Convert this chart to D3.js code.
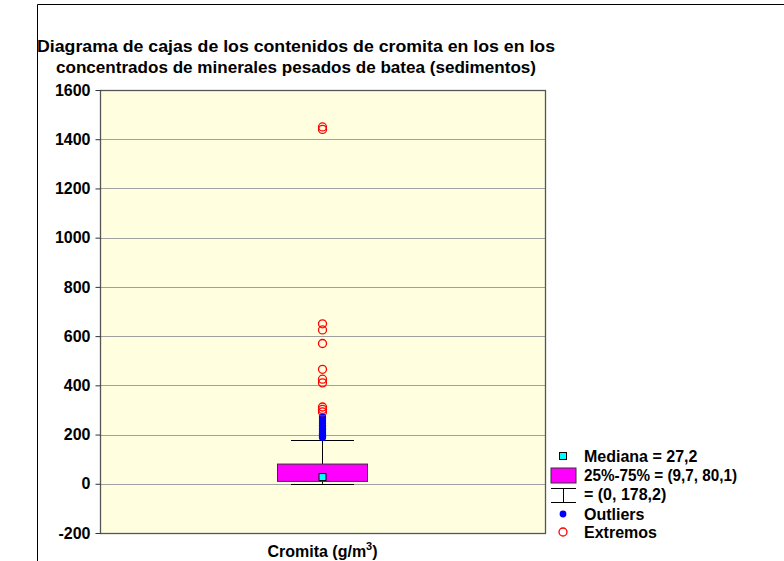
<!DOCTYPE html>
<html>
<head>
<meta charset="utf-8">
<script src="https://cdn.jsdelivr.net/npm/d3@7"></script>
<style>
  body { margin: 0; background: #fff; }
  text { font-family: Arial, "Liberation Sans", sans-serif; font-weight: bold; }
</style>
</head>
<body>
<div id="workspace"></div>
<script>
// chart values
var titleLines = ["Diagrama de cajas de los contenidos de cromita en los en los",
                  "concentrados de minerales pesados de batea (sedimentos)"];
var yTicks = [-200, 0, 200, 400, 600, 800, 1000, 1200, 1400, 1600];
var category = "Cromita";
var median = 27.2;
var q1 = 9.7, q3 = 80.1;
var whiskLow = 0, whiskHigh = 178.2;
var outliers = [188, 192, 196, 200, 205, 210, 215, 220, 226, 232, 238, 245, 252, 260, 268, 272];
var extremes = [1450, 1440, 650, 625, 570, 465, 425, 410, 312, 302, 292];
var legendLabels = ["Mediana = 27,2", "25%-75% = (9,7, 80,1)", "= (0, 178,2)", "Outliers", "Extremos"];

var W = 784, H = 561;
var svg = d3.select("#workspace")
	.append("svg")
	.attr("width", W)
	.attr("height", H);

// outer frame
svg.append("path")
	.attr("d", "M37.5," + H + "V4.5H" + W)
	.attr("stroke", "black")
	.attr("fill", "none");

var plot = {left: 100, right: 545, top: 90, bottom: 533};

var y = d3.scaleLinear().domain([-200, 1600]).range([plot.bottom, plot.top]);
var x = d3.scaleBand().domain([category]).range([plot.left, plot.right]);
var cx = x(category) + x.bandwidth() / 2;

// title
titleLines.forEach(function(t, i) {
	svg.append("text")
		.attr("x", 296)
		.attr("y", 52 + i * 21)
		.attr("text-anchor", "middle")
		.attr("font-size", "16px")
		.attr("textLength", i == 0 ? 518 : 480)
		.attr("lengthAdjust", "spacingAndGlyphs")
		.text(t);
});

// plot background
svg.append("rect")
	.attr("x", plot.left)
	.attr("y", plot.top)
	.attr("width", plot.right - plot.left)
	.attr("height", plot.bottom - plot.top)
	.attr("fill", "#ffffe0");

// grid lines
svg.selectAll(".grid")
	.data(yTicks.slice(1, -1))
	.enter().append("line")
	.attr("x1", plot.left)
	.attr("x2", plot.right)
	.attr("y1", function(d) { return Math.round(y(d)) + 0.5; })
	.attr("y2", function(d) { return Math.round(y(d)) + 0.5; })
	.attr("stroke", "#a0a0a0")
	.attr("stroke-width", 1.2);

svg.append("rect")
	.attr("x", plot.left + 0.5)
	.attr("y", plot.top + 0.5)
	.attr("width", plot.right - plot.left)
	.attr("height", plot.bottom - plot.top)
	.attr("fill", "none")
	.attr("stroke", "#555")
	.attr("stroke-width", 1.3);

// y axis
var yAxis = d3.axisLeft(y).tickValues(yTicks).tickSize(5).tickPadding(5)
	.tickFormat(function(d) { return String(d); });
var ga = svg.append("g")
	.attr("transform", "translate(" + (plot.left + 0.5) + ",0)")
	.call(yAxis);
ga.select(".domain").remove();
ga.selectAll(".tick line").attr("stroke", "#333");
ga.selectAll(".tick text")
	.attr("font-size", "16px")
	.attr("font-family", "Arial, 'Liberation Sans', sans-serif")
	.attr("font-weight", "bold")
	.attr("fill", "#000");

// x label
var xl = svg.append("text")
	.attr("x", cx)
	.attr("y", 557)
	.attr("text-anchor", "middle")
	.attr("font-size", "16px");
xl.append("tspan").text(category + " (g/m");
xl.append("tspan").attr("font-size", "11px").attr("dy", -7).text("3");
xl.append("tspan").attr("dy", 7).text(")");

// whiskers
var boxW = 90, capW = 63;
svg.append("line")
	.attr("x1", cx).attr("x2", cx)
	.attr("y1", y(whiskLow)).attr("y2", y(whiskHigh))
	.attr("stroke", "black");
[whiskLow, whiskHigh].forEach(function(v) {
	svg.append("line")
		.attr("x1", cx - capW / 2).attr("x2", cx + capW / 2)
		.attr("y1", Math.round(y(v)) + 0.5).attr("y2", Math.round(y(v)) + 0.5)
		.attr("stroke", "black");
});

// box
svg.append("rect")
	.attr("x", cx - boxW / 2)
	.attr("y", y(q3))
	.attr("width", boxW)
	.attr("height", y(q1) - y(q3))
	.attr("fill", "#ff00ff")
	.attr("stroke", "#333");

// median
svg.append("rect")
	.attr("x", cx - 3.5)
	.attr("y", y(median) - 3.5)
	.attr("width", 7)
	.attr("height", 7)
	.attr("fill", "#00ffff")
	.attr("stroke", "#000");

// outliers
svg.selectAll(".out")
	.data(outliers)
	.enter().append("circle")
	.attr("cx", cx)
	.attr("cy", function(d) { return y(d); })
	.attr("r", 3.6)
	.attr("fill", "#0000ff");

// extremes
svg.selectAll(".ext")
	.data(extremes)
	.enter().append("circle")
	.attr("cx", cx)
	.attr("cy", function(d) { return y(d); })
	.attr("r", 4)
	.attr("fill", "none")
	.attr("stroke", "#ff0000")
	.attr("stroke-width", 1.3);

// legend
var lx = 563;
var ly = [456, 475.5, 494, 514, 532];
svg.append("rect").attr("x", lx - 3.5).attr("y", ly[0] - 3.5).attr("width", 7).attr("height", 7)
	.attr("fill", "#00ffff").attr("stroke", "#000");
svg.append("rect").attr("x", 551).attr("y", 468).attr("width", 25).attr("height", 15)
	.attr("fill", "#ff00ff").attr("stroke", "#333");
svg.append("path").attr("d", "M551,488.5H576M563.5,488.5V502.5M551,502.5H576")
	.attr("stroke", "#000").attr("fill", "none");
svg.append("circle").attr("cx", lx).attr("cy", ly[3]).attr("r", 3.4).attr("fill", "#0000ff");
svg.append("circle").attr("cx", lx).attr("cy", ly[4]).attr("r", 4).attr("fill", "none")
	.attr("stroke", "#ff0000").attr("stroke-width", 1.3);

legendLabels.forEach(function(t, i) {
	var tx = svg.append("text")
		.attr("x", 584)
		.attr("y", ly[i] + 5.5)
		.attr("font-size", "16px")
		.text(t);
	if (i == 1) tx.attr("textLength", 153).attr("lengthAdjust", "spacingAndGlyphs");
});
</script>
</body>
</html>
